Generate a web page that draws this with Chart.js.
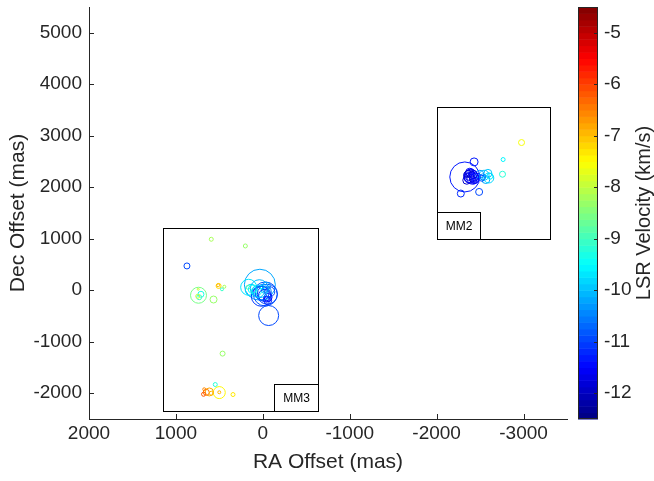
<!DOCTYPE html>
<html>
<head>
<meta charset="utf-8">
<script src="https://cdn.jsdelivr.net/npm/chart.js@4.4.0/dist/chart.umd.min.js"></script>
<style>
  html, body { margin: 0; padding: 0; background: #fff; }
  #wrap { width: 654px; height: 481px; }
</style>
</head>
<body>
<div id="wrap"><canvas id="c" width="654" height="481"></canvas></div>
<script>
// maser spots: RA / Dec offsets (mas), LSR velocity (km/s), marker size (flux)
const ra = [593, 201, 873, 740, 712, 732, 749, 743, 567, 509, 470, 443, 514, 463,
  34, 163, 132, 74, 98, 170, -29, -52, -6, 17, -67, -56, -41, -18, 5, -41, 51,
  -20, -60, 10, -80, 40, 120, -30,
  547, 501, 501, 616, 651, 682, 674, 593, 343,
  -2324, -2393, -2370, -2416, -2381, -2431, -2347, -2404, -2451, -2546, -2566, -2497,
  -2520, -2474, -2612, -2758, -2765, -2278, -2489, -2977,
  -2360, -2420, -2410, -2375, -2440, -2350, -2395, -2430, -2590, -2600, -2530];
const dec = [990, 860, 472, -97, -78, -136, -117, 19, -180, 84, 19, 68, 97, -1230,
  107, 58, 0, -19, -39, 58, -72, -78, -39, -117, -491, -200, -175, 0, 58, 78, -19,
  -100, -140, -60, -30, 30, 20, 20,
  -1831, -1987, -1981, -1975, -1981, -2020, -1923, -2000, -2025,
  2200, 2214, 2233, 2175, 2292, 2492, 2136, 2253, 2136, 2233, 2150, 2253,
  2175, 2214, 2214, 2253, 2538, 1878, 1909, 2868,
  2270, 2250, 2160, 2180, 2200, 2230, 2300, 2120, 2270, 2180, 2200];
const vel = [-8.2, -8.3, -11.0, -8.6, -9.3, -9.0, -8.0, -7.9, -8.3, -7.2, -9.1, -8.2, -7.0, -8.3,
  -10.2, -9.7, -9.8, -9.4, -9.2, -8.8, -10.8, -11.0, -10.5, -11.1, -10.9, -11.2, -11.3, -10.0, -9.6, -10.3, -10.0,
  -11.2, -11.4, -10.8, -10.9, -10.1, -9.5, -10.4,
  -9.2, -7.5, -7.0, -6.8, -6.5, -6.2, -6.6, -6.9, -7.3,
  -11.3, -11.8, -11.7, -11.6, -11.5, -11.3, -11.9, -11.8, -11.4, -9.9, -10.2, -10.3,
  -11.0, -11.2, -9.6, -9.2, -9.6, -11.2, -11.0, -7.6,
  -11.9, -11.7, -11.8, -11.6, -11.5, -11.8, -11.4, -11.6, -10.0, -9.8, -10.4];
const size = [2, 2, 3, 8, 3, 2.5, 2, 1, 3.5, 2.5, 1.5, 1.5, 1.5, 2.5,
  15.5, 8, 6, 5, 3, 2, 12, 10, 8, 10, 10, 4, 3, 3, 2, 4, 6,
  6, 4, 7, 5, 9, 4, 3,
  2, 6, 1.5, 4, 3, 2, 1.5, 2, 2,
  15, 7, 5, 6, 4, 4, 4, 3, 3, 5, 4, 4,
  3, 3, 3, 3, 2, 3.5, 3.5, 3,
  3, 4, 3, 5, 4, 2.5, 3, 2.5, 4, 5, 3];

const xTicks = [2000, 1000, 0, -1000, -2000, -3000];
const yTicks = [-2000, -1000, 0, 1000, 2000, 3000, 4000, 5000];
const cbTicks = [-12, -11, -10, -9, -8, -7, -6, -5];

// source regions and their name tags
const regionNames = ['MM3', 'MM2'];
const regionRa = [[1150, -630], [-2000, -3300]];
const regionDec = [[-2350, 1200], [1000, 3560]];
const tagRa = [[-130, -630], [-2000, -2500]];
const tagDec = [[-2350, -1830], [1000, 1520]];

const vMin = -12.5, vMax = -4.5;
const ink = '#262626';
const fontFam = '"Liberation Sans", Arial, sans-serif';

function jet(t) {
    const c = v => Math.max(0, Math.min(1, v));
    const r = c(1.5 - Math.abs(4 * t - 3));
    const g = c(1.5 - Math.abs(4 * t - 2));
    const b = c(1.5 - Math.abs(4 * t - 1));
    return `rgb(${Math.round(r * 255)},${Math.round(g * 255)},${Math.round(b * 255)})`;
}

function velColor(v) {
    let idx = Math.floor((v - vMin) / (vMax - vMin) * 64);
    idx = Math.max(0, Math.min(63, idx));
    return jet((idx + 0.5) / 64);
}

const extras = {
    id: 'extras',
    afterDatasetsDraw(chart) {
        const { ctx, chartArea, scales } = chart;
        const x = scales.x, y = scales.y, cb = scales.cb;
        ctx.save();
        ctx.lineWidth = 1;
        ctx.strokeStyle = '#000';

        // region boxes with name tags
        regionNames.forEach((name, i) => {
            const x0 = Math.round(x.getPixelForValue(regionRa[i][0])) + 0.5;
            const x1 = Math.round(x.getPixelForValue(regionRa[i][1])) + 0.5;
            const y0 = Math.round(y.getPixelForValue(regionDec[i][0])) + 0.5;
            const y1 = Math.round(y.getPixelForValue(regionDec[i][1])) + 0.5;
            ctx.strokeRect(x0, y1, x1 - x0, y0 - y1);

            const tx0 = Math.round(x.getPixelForValue(tagRa[i][0])) + 0.5;
            const tx1 = Math.round(x.getPixelForValue(tagRa[i][1])) + 0.5;
            const ty0 = Math.round(y.getPixelForValue(tagDec[i][0])) + 0.5;
            const ty1 = Math.round(y.getPixelForValue(tagDec[i][1])) + 0.5;
            ctx.fillStyle = '#fff';
            ctx.fillRect(tx0, ty1, tx1 - tx0, ty0 - ty1);
            ctx.strokeRect(tx0, ty1, tx1 - tx0, ty0 - ty1);
            ctx.fillStyle = '#000';
            ctx.font = '12px ' + fontFam;
            ctx.textAlign = 'center';
            ctx.textBaseline = 'middle';
            ctx.fillText(name, (tx0 + tx1) / 2, (ty0 + ty1) / 2 + 1);
        });

        // inward tick marks
        ctx.strokeStyle = ink;
        ctx.beginPath();
        xTicks.forEach(v => {
            const px = Math.round(x.getPixelForValue(v)) + 0.5;
            ctx.moveTo(px, chartArea.bottom);
            ctx.lineTo(px, chartArea.bottom - 5);
        });
        yTicks.forEach(v => {
            const py = Math.round(y.getPixelForValue(v)) + 0.5;
            ctx.moveTo(chartArea.left, py);
            ctx.lineTo(chartArea.left + 5, py);
        });
        ctx.stroke();

        // colorbar
        const bx = chartArea.right + 11, bw = 20;
        for (let k = 0; k < 64; k++) {
            const v0 = vMin + (vMax - vMin) * k / 64;
            const v1 = vMin + (vMax - vMin) * (k + 1) / 64;
            const p0 = cb.getPixelForValue(v0), p1 = cb.getPixelForValue(v1);
            ctx.fillStyle = jet((k + 0.5) / 64);
            ctx.fillRect(bx, p1, bw, p0 - p1 + 0.5);
        }
        ctx.strokeStyle = ink;
        ctx.strokeRect(bx + 0.5, cb.top + 0.5, bw - 1, cb.bottom - cb.top - 1);
        ctx.beginPath();
        cbTicks.forEach(v => {
            const py = Math.round(cb.getPixelForValue(v)) + 0.5;
            ctx.moveTo(bx + bw, py);
            ctx.lineTo(bx + bw - 4, py);
        });
        ctx.stroke();

        // colorbar title, reading bottom to top
        ctx.fillStyle = ink;
        ctx.font = '20px ' + fontFam;
        ctx.textAlign = 'center';
        ctx.textBaseline = 'middle';
        ctx.translate(644, (cb.top + cb.bottom) / 2);
        ctx.rotate(-Math.PI / 2);
        ctx.fillText('LSR Velocity (km/s)', 0, 0);
        ctx.restore();
    }
};

const points = ra.map((v, i) => ({ x: v, y: dec[i], r: size[i] }));
const plain = v => String(v);

new Chart(document.getElementById('c'), {
    type: 'bubble',
    data: {
        datasets: [{
            data: points,
            backgroundColor: 'rgba(0,0,0,0)',
            borderColor: vel.map(velColor),
            borderWidth: 1
        }]
    },
    options: {
        responsive: false,
        animation: false,
        events: [],
        devicePixelRatio: 1,
        layout: { autoPadding: false, padding: { top: 7, left: 0, right: 0, bottom: 0 } },
        plugins: { legend: { display: false }, tooltip: { enabled: false } },
        scales: {
            x: {
                type: 'linear', reverse: true, min: -3500, max: 2000,
                afterBuildTicks: s => { s.ticks = xTicks.map(v => ({ value: v })); },
                afterFit: s => { s.height = 62; s.paddingLeft = 0; s.paddingRight = 0; },
                grid: { display: false, drawTicks: false },
                border: { display: true, color: ink, width: 1 },
                ticks: { color: ink, font: { size: 19, family: fontFam }, padding: 3, maxRotation: 0, callback: plain },
                title: { display: true, text: 'RA Offset (mas)', color: ink, font: { size: 21, family: fontFam }, padding: { top: 0, bottom: 6 } }
            },
            y: {
                type: 'linear', min: -2500, max: 5500,
                afterBuildTicks: s => { s.ticks = yTicks.map(v => ({ value: v })); },
                afterFit: s => { s.width = 89; s.paddingTop = 0; s.paddingBottom = 0; },
                grid: { display: false, drawTicks: false },
                border: { display: true, color: ink, width: 1 },
                ticks: { color: ink, font: { size: 19, family: fontFam }, padding: 7, callback: plain },
                title: { display: true, text: 'Dec Offset (mas)', color: ink, font: { size: 21, family: fontFam }, padding: { top: 6, bottom: 0 } }
            },
            cb: {
                type: 'linear', axis: 'y', position: 'right', min: vMin, max: vMax,
                afterBuildTicks: s => { s.ticks = cbTicks.map(v => ({ value: v })); },
                afterFit: s => { s.width = 87; s.paddingTop = 0; s.paddingBottom = 0; },
                grid: { display: false, drawTicks: false },
                border: { display: false },
                ticks: { color: ink, font: { size: 19, family: fontFam }, padding: 37, callback: plain }
            }
        }
    },
    plugins: [extras]
});
</script>
</body>
</html>
